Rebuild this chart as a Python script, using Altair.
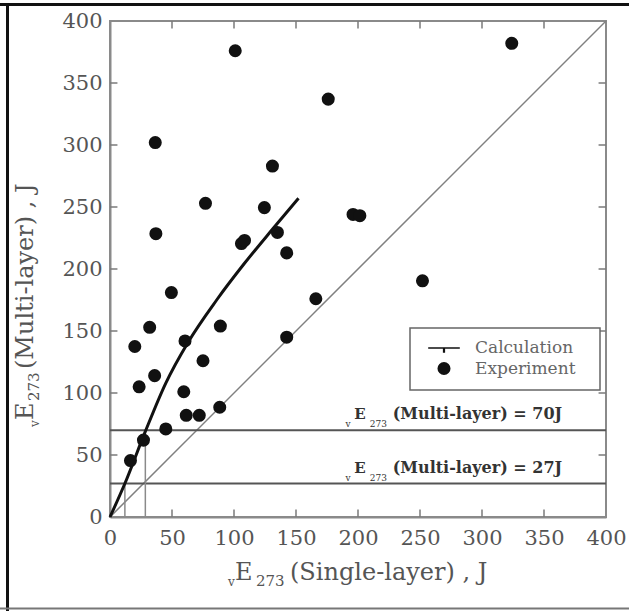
import altair as alt
import pandas as pd

# Measured impact energy: single-layer vs multi-layer welds
exp_single = [101, 324, 176, 36.5, 131, 77, 124.5, 196, 201.5, 37, 106, 108.5,
              135, 142.5, 49.5, 252, 166, 32, 89, 20, 60.5, 142.5, 75, 36,
              23.5, 59.5, 61.5, 72, 88.5, 45, 27, 16.5]
exp_multi = [376, 382, 337, 302, 283, 253, 249.5, 244, 243, 228.5, 220.5, 223,
             229.5, 213, 181, 190.5, 176, 153, 154, 137.5, 142, 145, 126, 114,
             105, 101, 82, 82, 88.5, 71, 62, 45.5]

# Calculated relation
calc_single = [0, 12, 28.5, 45, 63, 86, 108, 131, 152]
calc_multi = [0, 27, 69, 108, 141, 175, 204, 232, 257]

# Reference levels for the multi-layer value and where the curve meets them
levels = [70, 27]
level_single = [28.5, 12]

ticks = [0, 50, 100, 150, 200, 250, 300, 350, 400]
inner_ticks = ticks[1:-1]
kinds = ["Calculation", "Experiment"]

W, H = 496, 496
SERIF = "DejaVu Serif"
LABEL_GREY = "#555"
AXIS_GREY = "#8a8a8a"
TICK_LEN = 6  # in axis units (about 7 px)

xs = alt.Scale(domain=[0, 400], nice=False, zero=False)
ys = alt.Scale(domain=[0, 400], nice=False, zero=False)

exp_df = pd.DataFrame({"single": exp_single, "multi": exp_multi, "kind": "Experiment"})
calc_df = pd.DataFrame({"single": calc_single, "multi": calc_multi})
diag_df = pd.DataFrame({"single": [0, 400], "multi": [0, 400]})
level_df = pd.DataFrame({"multi": levels, "x0": 0, "x1": 400})
vert_df = pd.DataFrame({"single": level_single, "y0": 0, "multi": levels})

# tick segments along each edge of the plot
tb = pd.DataFrame({"a": inner_ticks, "b0": 0.0, "b1": TICK_LEN})
tt = pd.DataFrame({"a": inner_ticks, "b0": 400.0, "b1": 400 - TICK_LEN})

axis_common = dict(values=ticks, ticks=False, grid=False, labelFont=SERIF,
                   labelFontSize=21, labelColor=LABEL_GREY, labelFlush=False,
                   domainColor=AXIS_GREY, domainWidth=2, title=None)
x_axis = alt.Axis(labelPadding=10, **axis_common)
y_axis = alt.Axis(labelPadding=8, **axis_common)

diag = alt.Chart(diag_df).mark_line(color="#808080", strokeWidth=1.5).encode(
    x=alt.X("single:Q", scale=xs, axis=x_axis),
    y=alt.Y("multi:Q", scale=ys, axis=y_axis),
)

level_lines = alt.Chart(level_df).mark_rule(color="#555", strokeWidth=2).encode(
    x=alt.X("x0:Q", scale=xs), x2="x1:Q", y=alt.Y("multi:Q", scale=ys)
)

vert_lines = alt.Chart(vert_df).mark_rule(color="#8a8a8a", strokeWidth=1.5).encode(
    x=alt.X("single:Q", scale=xs), y=alt.Y("y0:Q", scale=ys), y2="multi:Q"
)

calc = alt.Chart(calc_df).mark_line(color="#111", strokeWidth=3, interpolate="monotone").encode(
    x=alt.X("single:Q", scale=xs), y=alt.Y("multi:Q", scale=ys)
)

# Legend frame
one = pd.DataFrame({"k": [0]})
legend_box = alt.Chart(one).mark_rect(fill="white", stroke="#666", strokeWidth=1.5).encode(
    x=alt.value(300), x2=alt.value(490), y=alt.value(307), y2=alt.value(369))

legend = alt.Legend(title=None, orient="none", legendX=300, legendY=307,
                    padding=4, symbolOffset=14, labelOffset=15, labelFont=SERIF,
                    labelFontSize=17, labelColor="#666",
                    symbolFillColor="#111", symbolStrokeWidth=0, rowPadding=3)

# line-with-marker glyph for the calculated curve, dot for experiments
line_glyph = "M-1,-0.05H1V0.05H0.07V0.3H-0.07V0.05H-1Z"

points = alt.Chart(exp_df).mark_point(filled=True, color="#111", opacity=1).encode(
    x=alt.X("single:Q", scale=xs),
    y=alt.Y("multi:Q", scale=ys),
    shape=alt.Shape("kind:N", scale=alt.Scale(domain=kinds, range=[line_glyph, "circle"]),
                    legend=legend),
    size=alt.Size("kind:N", scale=alt.Scale(domain=kinds, range=[1000, 170]),
                  legend=legend),
)

# Labels of the two reference levels, built from their parts
parts = []
for lv in levels:
    parts += [
        {"txt": "v", "single": 190, "multi": lv, "fs": 9, "dy": -3},
        {"txt": "E", "single": 197, "multi": lv, "fs": 15, "dy": -11},
        {"txt": "273", "single": 209.5, "multi": lv, "fs": 9, "dy": -3},
        {"txt": "(Multi-layer) = " + str(lv) + "J", "single": 228, "multi": lv,
         "fs": 16, "dy": -11},
    ]
parts_df = pd.DataFrame(parts)

label_layers = []
for (fs, dy), sub in parts_df.groupby(["fs", "dy"]):
    label_layers.append(
        alt.Chart(sub).mark_text(font=SERIF, fontSize=int(fs), dy=int(dy), align="left",
                                 baseline="alphabetic", color="#333",
                                 fontWeight="bold" if fs >= 15 else "normal").encode(
            x=alt.X("single:Q", scale=xs), y=alt.Y("multi:Q", scale=ys), text="txt:N")
    )

# Axis titles with subscripted symbols
def title_piece(text, x, y, size, angle=0):
    return alt.Chart(one).mark_text(text=text, font=SERIF, fontSize=size, angle=angle,
                                    align="left", baseline="alphabetic",
                                    color=LABEL_GREY).encode(
        x=alt.value(x), y=alt.value(y))

x_title = [
    title_piece("v", 118, 565, 12),
    title_piece("E", 125, 559, 24),
    title_piece("273", 146, 565, 15),
    title_piece("(Single-layer) , J", 180, 559, 24),
]
y_title = [
    title_piece("v", -71, 406, 12, 270),
    title_piece("E", -77, 399, 24, 270),
    title_piece("273", -71, 380, 15, 270),
    title_piece("(Multi-layer) , J", -77, 348, 24, 270),
]

# Inward tick marks on all four sides
tick_style = dict(color="#7a7a7a", strokeWidth=1.5)
tick_bottom = alt.Chart(tb).mark_rule(**tick_style).encode(
    x=alt.X("a:Q", scale=xs), y=alt.Y("b0:Q", scale=ys), y2="b1:Q")
tick_top = alt.Chart(tt).mark_rule(**tick_style).encode(
    x=alt.X("a:Q", scale=xs), y=alt.Y("b0:Q", scale=ys), y2="b1:Q")
tick_left = alt.Chart(tb).mark_rule(**tick_style).encode(
    y=alt.Y("a:Q", scale=ys), x=alt.X("b0:Q", scale=xs), x2="b1:Q")
tick_right = alt.Chart(tt).mark_rule(**tick_style).encode(
    y=alt.Y("a:Q", scale=ys), x=alt.X("b0:Q", scale=xs), x2="b1:Q")

# Outer frame of the figure
frame_top = alt.Chart(one).mark_rule(color="#111", strokeWidth=3).encode(
    x=alt.value(-110), x2=alt.value(519), y=alt.value(-16.5), y2=alt.value(-16.5))
frame_left = alt.Chart(one).mark_rule(color="#111", strokeWidth=3).encode(
    x=alt.value(-102.5), y=alt.value(-18), y2=alt.value(590))
frame_bottom = alt.Chart(one).mark_rule(color="#777", strokeWidth=2).encode(
    x=alt.value(-110), x2=alt.value(519), y=alt.value(587.5))

chart = alt.layer(
    diag, level_lines, vert_lines, calc,
    tick_bottom, tick_top, tick_left, tick_right,
    legend_box, points, *label_layers,
    *x_title, *y_title,
    frame_top, frame_left, frame_bottom,
).properties(
    width=W, height=H,
    autosize=alt.AutoSizeParams(type="none"),
    padding={"left": 110, "top": 21, "right": 23, "bottom": 94},
    background="white",
).configure_view(stroke=AXIS_GREY, strokeWidth=2)

chart.save("out.html", embed_options={"renderer": "svg", "actions": False})
